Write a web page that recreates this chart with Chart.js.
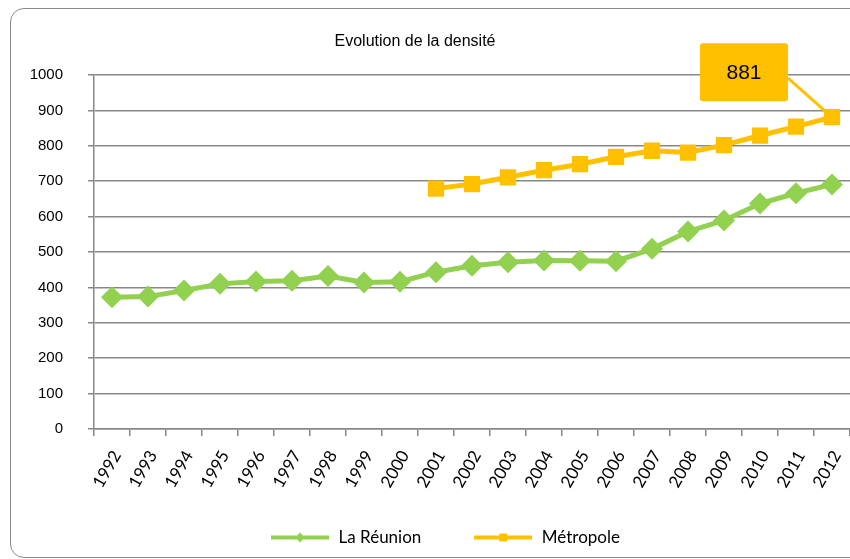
<!DOCTYPE html>
<html>
<head>
<meta charset="utf-8">
<script src="https://cdn.jsdelivr.net/npm/chart.js@4.4.1/dist/chart.umd.min.js"></script>
<style>
  body { margin: 0; background: #fff; overflow: hidden; }
  #frame { position: absolute; left: 10px; top: 8px; width: 900px; height: 548px;
           border: 1px solid #8a8a8a; border-radius: 14px; }
  #wrap { position: absolute; left: 0; top: 0; width: 850px; height: 559px; }
</style>
</head>
<body>
<div id="frame"></div>
<div id="wrap"><canvas id="densityChart" width="850" height="559"></canvas></div>
<script>
var years = ['1992','1993','1994','1995','1996','1997','1998','1999','2000','2001','2002',
             '2003','2004','2005','2006','2007','2008','2009','2010','2011','2012'];
var reunion = [372, 374, 391, 410, 417, 419, 432, 414, 416, 443, 461,
               471, 476, 475, 474, 509, 558, 589, 637, 666, 691];
var metropole = [null, null, null, null, null, null, null, null, null, 679, 692,
                 711, 731, 748, 769, 786, 781, 802, 829, 854, 881];
var yTicks = [0, 100, 200, 300, 400, 500, 600, 700, 800, 900, 1000];

var green = '#92D050';
var yellow = '#FFC000';
var gridGrey = '#878787';

// small legend swatches: line with the marker in the middle
function swatch(color, diamond) {
    var c = document.createElement('canvas');
    c.width = 58; c.height = 18;
    var g = c.getContext('2d');
    g.strokeStyle = color; g.lineWidth = 4;
    g.beginPath(); g.moveTo(0, 9); g.lineTo(58, 9); g.stroke();
    g.fillStyle = color;
    g.beginPath();
    if (diamond) {
        g.moveTo(29, 4); g.lineTo(34, 9); g.lineTo(29, 14); g.lineTo(24, 9);
    } else {
        g.rect(25, 5, 8, 8);
    }
    g.closePath(); g.fill();
    return c;
}

// callout box with the last value of Métropole
var calloutPlugin = {
    id: 'callout',
    afterDatasetsDraw: function (chart) {
        var meta = chart.getDatasetMeta(1);
        var last = metropole.length - 1;
        var pt = meta.data[last];
        if (!pt) return;
        var ctx = chart.ctx;
        var bx = pt.x - 132, by = pt.y - 74, bw = 88, bh = 58;
        ctx.save();
        ctx.strokeStyle = yellow; ctx.lineWidth = 3;
        ctx.beginPath(); ctx.moveTo(bx + bw, by + 35); ctx.lineTo(pt.x, pt.y); ctx.stroke();
        ctx.fillStyle = yellow;
        ctx.beginPath();
        ctx.roundRect(bx, by, bw, bh, 3);
        ctx.fill();
        ctx.fillStyle = '#000';
        ctx.font = '21px "Liberation Sans", Arial, sans-serif';
        ctx.textAlign = 'center'; ctx.textBaseline = 'middle';
        ctx.fillText(String(metropole[last]), bx + bw / 2, by + bh / 2 + 1);
        ctx.restore();
    }
};

// nudge title and legend like the original layout
var shiftPlugin = {
    id: 'shift',
    afterLayout: function (chart) {
        if (chart.titleBlock) { chart.titleBlock.left -= 10; chart.titleBlock.right -= 10; }
        if (chart.legend) {
            chart.legend.left += 20; chart.legend.right += 20;
            chart.legend.top -= 17; chart.legend.bottom -= 17;
        }
    }
};

var ctx = document.getElementById('densityChart').getContext('2d');
var chart = new Chart(ctx, {
    type: 'line',
    data: {
        labels: years,
        datasets: [{
            label: 'La Réunion',
            data: reunion,
            borderColor: green,
            backgroundColor: green,
            borderWidth: 5,
            pointStyle: 'rectRot',
            pointRadius: 11,
            pointBorderWidth: 0,
            tension: 0
        }, {
            label: 'Métropole',
            data: metropole,
            borderColor: yellow,
            backgroundColor: yellow,
            borderWidth: 5,
            pointStyle: 'rect',
            pointRadius: 11.5,
            pointBorderWidth: 0,
            tension: 0
        }]
    },
    options: {
        responsive: false,
        animation: false,
        layout: { autoPadding: false, padding: { left: 0, right: 0, top: 0, bottom: -14 } },
        plugins: {
            title: {
                display: true,
                text: 'Evolution de la densité',
                color: '#000',
                font: { family: '"Liberation Sans", Arial, sans-serif', size: 16, weight: 'normal' },
                padding: { top: 32, bottom: 23.8 }
            },
            legend: {
                position: 'bottom',
                labels: {
                    usePointStyle: true,
                    pointStyleWidth: 60,
                    padding: 52,
                    color: '#000',
                    font: { family: 'Lato, "Liberation Sans", sans-serif', size: 17 },
                    generateLabels: function (ch) {
                        var items = Chart.defaults.plugins.legend.labels.generateLabels(ch);
                        items[0].pointStyle = swatch(green, true);
                        items[1].pointStyle = swatch(yellow, false);
                        return items;
                    }
                }
            },
            tooltip: { enabled: false }
        },
        scales: {
            x: {
                offset: true,
                afterFit: function (scale) {
                    scale.height = 65;
                    scale.paddingLeft = 0;
                    scale.paddingRight = 0;
                },
                grid: { offset: true, drawOnChartArea: false, drawTicks: true, tickLength: 7,
                        color: gridGrey, lineWidth: 1.5 },
                border: { color: gridGrey, width: 1.5 },
                ticks: {
                    autoSkip: false, minRotation: 60, maxRotation: 60, padding: 11, labelOffset: 5,
                    color: '#000',
                    font: { family: 'Lato, "Liberation Sans", sans-serif', size: 17 }
                }
            },
            y: {
                min: 0, max: 1000,
                afterFit: function (scale) { scale.width = 94; },
                afterBuildTicks: function (scale) {
                    scale.ticks = yTicks.map(function (v) { return { value: v }; });
                },
                grid: { color: gridGrey, lineWidth: 1.5, tickLength: 6 },
                border: { color: gridGrey, width: 1.5 },
                ticks: {
                    padding: 25, color: '#000',
                    font: { family: '"Liberation Sans", Arial, sans-serif', size: 15 },
                    callback: function (value) { return String(value); }
                }
            }
        }
    },
    plugins: [calloutPlugin, shiftPlugin]
});
</script>
</body>
</html>
